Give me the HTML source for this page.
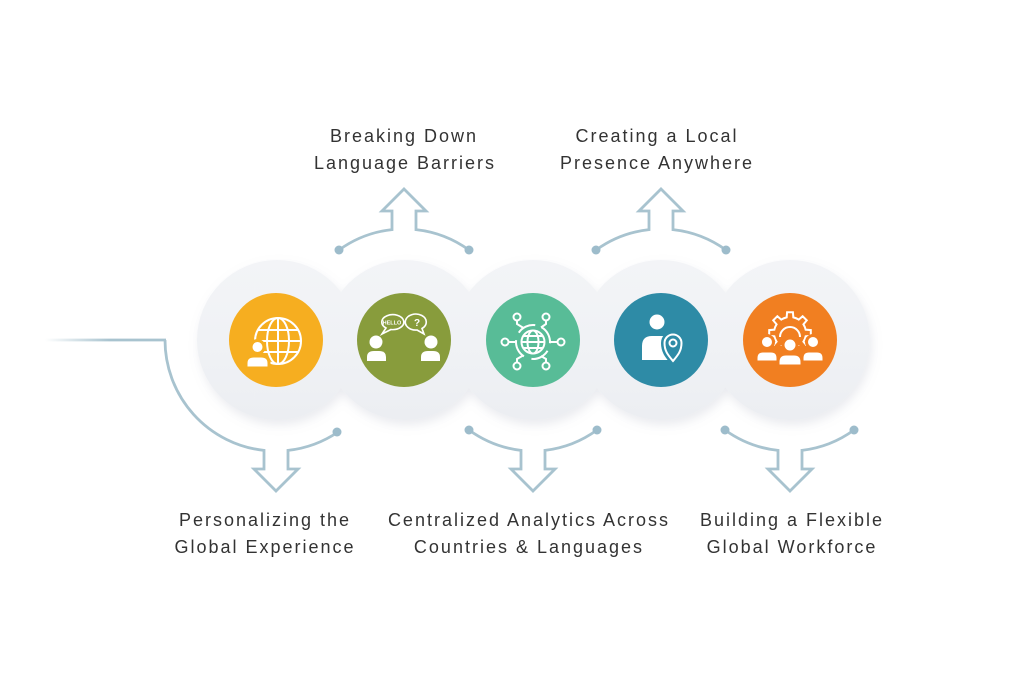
<!DOCTYPE html>
<html><head><meta charset="utf-8"><style>
html,body{margin:0;padding:0;background:#fff;}
svg{display:block;}
text{font-family:"Liberation Sans",Arial,sans-serif;font-size:18px;fill:#333;letter-spacing:2px;}
</style></head><body>
<svg width="1024" height="682" viewBox="0 0 1024 682" xmlns="http://www.w3.org/2000/svg">
<defs>
<linearGradient id="fade" gradientUnits="userSpaceOnUse" x1="45" y1="0" x2="110" y2="0">
<stop offset="0" stop-color="#a8c3cf" stop-opacity="0"/>
<stop offset="1" stop-color="#a8c3cf" stop-opacity="1"/>
</linearGradient>
<linearGradient id="bg" x1="0" y1="0" x2="0" y2="1">
<stop offset="0" stop-color="#f3f4f7"/>
<stop offset="0.5" stop-color="#f0f2f5"/>
<stop offset="1" stop-color="#eceef2"/>
</linearGradient>
<filter id="sh" x="-30%" y="-30%" width="160%" height="170%">
<feDropShadow dx="2" dy="5" stdDeviation="5" flood-color="#8a93a8" flood-opacity="0.18"/>
</filter>
<clipPath id="gearclip"><rect x="760" y="300" width="60" height="46"/></clipPath>
</defs>
<rect width="1024" height="682" fill="#fff"/>

<!-- background circles -->
<g filter="url(#sh)">
<circle cx="277" cy="340" r="80" fill="url(#bg)"/>
<circle cx="405" cy="340" r="80" fill="url(#bg)"/>
<circle cx="533" cy="340" r="80" fill="url(#bg)"/>
<circle cx="661" cy="340" r="80" fill="url(#bg)"/>
<circle cx="790" cy="340" r="80" fill="url(#bg)"/>
</g>

<!-- connectors -->
<g fill="none" stroke="#a8c3cf" stroke-width="2.8" stroke-linejoin="miter">
<path d="M45,340 L166,340" stroke="url(#fade)"/>
<path d="M165,340 A111 111 0 0 0 264,450.4 L264,469 L254,469 L276,491 L298,469 L288,469 L288,450.4 A111 111 0 0 0 338,432"/>
<path d="M339,250 A111 111 0 0 1 392,229.6 L392,211 L382,211 L404,189 L426,211 L416,211 L416,229.6 A111 111 0 0 1 469,250"/>
<path d="M469,430 A111 111 0 0 0 521,450.4 L521,469 L511,469 L533,491 L555,469 L545,469 L545,450.4 A111 111 0 0 0 597,430"/>
<path d="M596,250 A111 111 0 0 1 649,229.6 L649,211 L639,211 L661,189 L683,211 L673,211 L673,229.6 A111 111 0 0 1 726,250"/>
<path d="M725,430 A111 111 0 0 0 778,450.4 L778,469 L768,469 L790,491 L812,469 L802,469 L802,450.4 A111 111 0 0 0 854,430"/>
</g>
<g fill="#9dbccb">
<circle cx="337" cy="432" r="4.5"/>
<circle cx="339" cy="250" r="4.5"/><circle cx="469" cy="250" r="4.5"/>
<circle cx="469" cy="430" r="4.5"/><circle cx="597" cy="430" r="4.5"/>
<circle cx="596" cy="250" r="4.5"/><circle cx="726" cy="250" r="4.5"/>
<circle cx="725" cy="430" r="4.5"/><circle cx="854" cy="430" r="4.5"/>
</g>

<!-- colored circles -->
<circle cx="276" cy="340" r="47" fill="#f6ae20"/>
<circle cx="404" cy="340" r="47" fill="#889c3c"/>
<circle cx="533" cy="340" r="47" fill="#58bc97"/>
<circle cx="661" cy="340" r="47" fill="#2e8ba6"/>
<circle cx="790" cy="340" r="47" fill="#f17f21"/>

<!-- icon 1: globe + person -->
<g fill="none" stroke="#fff" stroke-width="2">
<circle cx="278" cy="341" r="23"/>
<ellipse cx="278" cy="341" rx="11" ry="23"/>
<line x1="278" y1="318" x2="278" y2="364"/>
<line x1="255" y1="341" x2="301" y2="341"/>
<line x1="258" y1="330" x2="298" y2="330"/>
<line x1="258" y1="352" x2="298" y2="352"/>
</g>
<g fill="#fff" stroke="#f6ae20" stroke-width="3">
<path d="M246,368 L246,363 Q246,356 254,356 L261,356 Q269,356 269,363 L269,368 Z"/>
<circle cx="257.5" cy="347" r="6.5"/>
</g>

<!-- icon 2: two people talking -->
<g fill="#fff">
<circle cx="376" cy="342" r="6.5"/>
<path d="M367,361 L367,357 Q367,351 374,351 L379,351 Q386,351 386,357 L386,361 Z"/>
<circle cx="431" cy="342" r="6.5"/>
<path d="M421,361 L421,357 Q421,351 428,351 L433,351 Q440,351 440,357 L440,361 Z"/>
</g>
<g fill="none" stroke="#fff" stroke-width="1.6">
<path d="M386,328 A11 7.5 0 1 1 391,329.5 L382,334 Z"/>
<path d="M422,328.5 A10.5 8 0 1 0 417,330 L424,334 Z"/>
</g>
<text x="392" y="324.5" text-anchor="middle" style="font-size:5.5px;letter-spacing:0;fill:#fff;font-weight:bold">HELLO</text>
<text x="417" y="326" text-anchor="middle" style="font-size:10px;letter-spacing:0;fill:#fff;font-weight:bold">?</text>

<!-- icon 3: network globe -->
<g fill="none" stroke="#fff" stroke-width="2">
<circle cx="533" cy="342" r="11.5"/>
<ellipse cx="533" cy="342" rx="5.5" ry="11.5"/>
<line x1="521.5" y1="342" x2="544.5" y2="342"/>
<line x1="523" y1="336" x2="543" y2="336"/>
<line x1="523" y1="348" x2="543" y2="348"/>
<circle cx="533" cy="342" r="17" stroke-dasharray="19 8" transform="rotate(-60 533 342)"/>
<circle cx="517" cy="317" r="3.5"/>
<circle cx="546" cy="317" r="3.5"/>
<circle cx="505" cy="342" r="3.5"/>
<circle cx="561" cy="342" r="3.5"/>
<circle cx="517" cy="366" r="3.5"/>
<circle cx="546" cy="366" r="3.5"/>
<path d="M517,320.5 L517,324 L523.5,328"/>
<path d="M546,320.5 L546,324 L541,327.5"/>
<line x1="508.5" y1="342" x2="516" y2="342"/>
<line x1="557.5" y1="342" x2="550" y2="342"/>
<path d="M517,362.5 L517,359 L523,355.5"/>
<path d="M546,362.5 L546,359 L541,356"/>
</g>

<!-- icon 4: person with pin -->
<g fill="#fff">
<circle cx="657" cy="322" r="7.5"/>
<path d="M642,360 L642,346 Q642,336 652,336 L663,336 Q673,336 673,346 L673,360 Z"/>
</g>
<path d="M673,361 C668,355 664.5,351 664.5,343 A8.5,8.5 0 0 1 681.5,343 C681.5,351 678,355 673,361 Z" fill="#2e8ba6" stroke="#2e8ba6" stroke-width="7"/>
<path d="M673,361 C668,355 664.5,351 664.5,343 A8.5,8.5 0 0 1 681.5,343 C681.5,351 678,355 673,361 Z" fill="#2e8ba6" stroke="#fff" stroke-width="2"/>
<circle cx="673" cy="343" r="3.5" fill="none" stroke="#fff" stroke-width="2"/>

<!-- icon 5: gear + team -->
<g clip-path="url(#gearclip)" fill="none" stroke="#fff" stroke-width="2">
<path d="M786.67,317.35 L787.08,312.2 L792.92,312.2 L793.33,317.35 A16 16 0 0 1 798.71,319.58 L802.64,316.23 L806.77,320.36 L803.42,324.29 A16 16 0 0 1 805.65,329.67 L810.8,330.08 L810.8,335.92 L805.65,336.33 A16 16 0 0 1 803.42,341.71 L806.77,345.64 L802.64,349.77 L798.71,346.42 A16 16 0 0 1 793.33,348.65 L792.92,353.8 L787.08,353.8 L786.67,348.65 A16 16 0 0 1 781.29,346.42 L777.36,349.77 L773.23,345.64 L776.58,341.71 A16 16 0 0 1 774.35,336.33 L769.2,335.92 L769.2,330.08 L774.35,329.67 A16 16 0 0 1 776.58,324.29 L773.23,320.36 L777.36,316.23 L781.29,319.58 A16 16 0 0 1 786.67,317.35 Z"/>
<path d="M780,337 A10 10 0 0 1 800,337"/>
</g>
<g fill="#fff" stroke="#f17f21" stroke-width="3">
<circle cx="767" cy="342" r="6.5"/>
<path d="M756,362 L756,358 Q756,351 763,351 L771,351 Q778,351 778,358 L778,362 Z"/>
<circle cx="813" cy="342" r="6.5"/>
<path d="M802,362 L802,358 Q802,351 809,351 L817,351 Q824,351 824,358 L824,362 Z"/>
<path d="M778,366 L778,362 Q778,354 786,354 L794,354 Q802,354 802,362 L802,366 Z"/>
<circle cx="790" cy="345" r="7"/>
</g>

<!-- labels -->
<text x="404" y="142" text-anchor="middle">Breaking Down</text>
<text x="405" y="169" text-anchor="middle">Language Barriers</text>
<text x="657" y="142" text-anchor="middle">Creating a Local</text>
<text x="657" y="169" text-anchor="middle">Presence Anywhere</text>
<text x="265" y="526" text-anchor="middle">Personalizing the</text>
<text x="265" y="553" text-anchor="middle">Global Experience</text>
<text x="529" y="526" text-anchor="middle">Centralized Analytics Across</text>
<text x="529" y="553" text-anchor="middle">Countries &amp; Languages</text>
<text x="792" y="526" text-anchor="middle">Building a Flexible</text>
<text x="792" y="553" text-anchor="middle">Global Workforce</text>
</svg>
</body></html>
